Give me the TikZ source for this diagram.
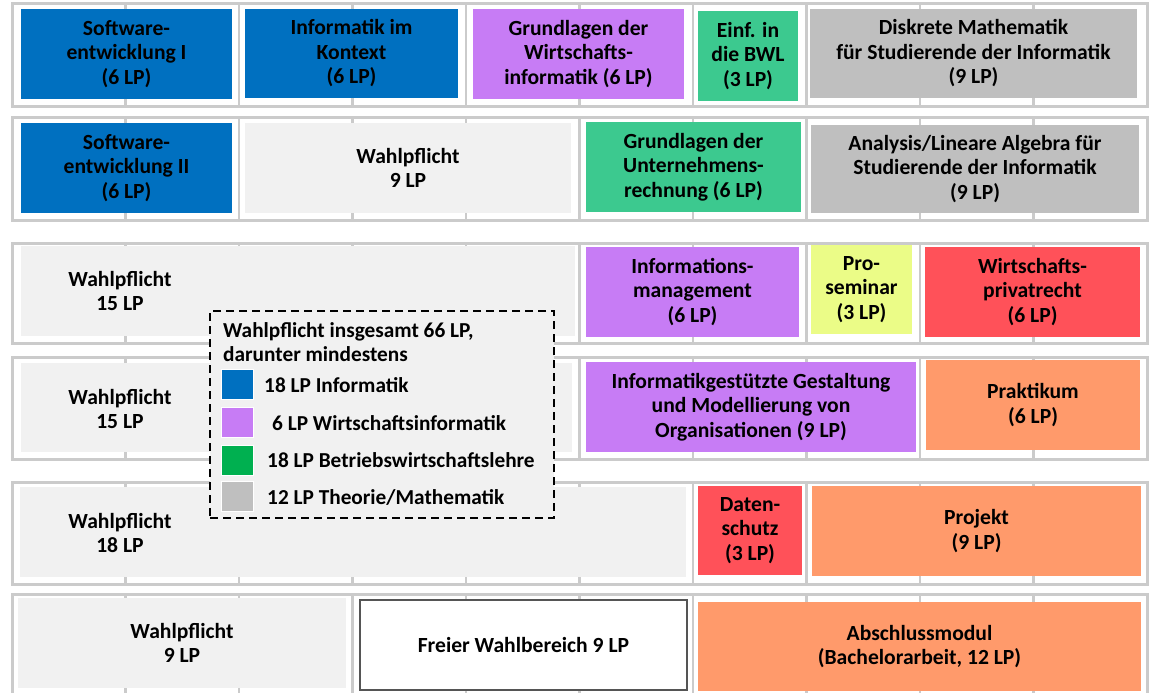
\documentclass[tikz,border=0pt]{standalone}
\usepackage{fontspec}
\setmainfont{Carlito}
\definecolor{cblue}{HTML}{0070C0}
\definecolor{cpurple}{HTML}{C77CF5}
\definecolor{cgreen}{HTML}{3CC98F}
\definecolor{cgray}{HTML}{BFBFBF}
\definecolor{clight}{HTML}{F1F1F1}
\definecolor{cyellow}{HTML}{EBFC87}
\definecolor{cred}{HTML}{FF5159}
\definecolor{corange}{HTML}{FF9A6B}
\definecolor{cgrid}{HTML}{CBCBCB}
\definecolor{clgreen}{HTML}{00B050}
\definecolor{cdark}{HTML}{555555}
\newcommand{\Mod}[7]{%
  \pgfmathsetmacro\Mcx{(#2+#4)/2}\pgfmathsetmacro\Mcy{(#3+#5)/2}%
  \pgfmathsetmacro\Mw{#4-#2}\pgfmathsetmacro\Mh{#5-#3}%
  \node[modbox,#6,minimum width=\Mw pt,minimum height=\Mh pt] (#1) at (\Mcx,\Mcy) {#7};}
\newcommand{\Row}[2]{%
  \draw[rowframe] (12,#1) rectangle (1147,#2);
  \foreach \i in {1,...,9}{\draw[gridline] ({12+113.5*\i},#1) -- ({12+113.5*\i},#2);}}
\tikzset{
  modbox/.style={inner sep=0pt,align=center,draw=none,
    font=\fontsize{21.6}{24.5}\selectfont\bfseries},
  txt/.style={inner sep=0pt,align=center,font=\fontsize{21.6}{24.5}\selectfont\bfseries},
  ltxt/.style={inner sep=0pt,anchor=base west,font=\fontsize{21.3}{24.5}\selectfont\bfseries},
  rowframe/.style={draw=cgrid,line width=3pt},
  gridline/.style={draw=cgrid,line width=2.5pt},
  legsq/.style={inner sep=0pt,minimum width=32pt,minimum height=30pt,draw=white,line width=0.6pt},
}
\begin{document}
\begin{tikzpicture}[x=1pt,y=-1pt]
\useasboundingbox (0,0) rectangle (1149,693);
\clip (0,0) rectangle (1149,693);
\fill[white] (0,0) rectangle (1149,693);
% semester rows with grid
\Row{3.5}{106}
\Row{117}{220}
\Row{243}{343}
\Row{357}{459}
\Row{482}{584}
\Row{594}{697}
% row 1
\Mod{se1}{21}{9}{232}{99}{fill=cblue}{Software-\\entwicklung I\\(6 LP)}
\Mod{iik}{245}{9}{458}{98}{fill=cblue}{Informatik im\\Kontext\\(6 LP)}
\Mod{gdw}{473}{9}{684}{99}{fill=cpurple}{Grundlagen der\\Wirtschafts-\\informatik (6 LP)}
\Mod{bwl}{698}{11}{798}{101}{fill=cgreen}{Einf. in\\die BWL\\(3 LP)}
\Mod{dm}{810}{9}{1137}{98}{fill=cgray}{Diskrete Mathematik\\für Studierende der Informatik\\(9 LP)}
% row 2
\Mod{se2}{21}{123}{232}{213}{fill=cblue}{Software-\\entwicklung II\\(6 LP)}
\Mod{wpa}{245}{123}{571}{213}{fill=clight}{Wahlpflicht\\9 LP}
\Mod{gdu}{586}{122}{801}{212}{fill=cgreen}{Grundlagen der\\Unternehmens-\\rechnung (6 LP)}
\Mod{ana}{811}{125}{1139}{213}{fill=cgray}{Analysis/Lineare Algebra für\\Studierende der Informatik\\(9 LP)}
% row 3
\Mod{wpb}{21}{246}{575}{336}{fill=clight}{}
\node[txt] (wpbl) at (120,291) {Wahlpflicht\\15 LP};
\Mod{im}{586}{247}{799}{337}{fill=cpurple}{Informations-\\management\\(6 LP)}
\Mod{ps}{811}{245}{912}{334}{fill=cyellow}{Pro-\\seminar\\(3 LP)}
\Mod{wpr}{925}{247}{1140}{337}{fill=cred}{Wirtschafts-\\privatrecht\\(6 LP)}
% row 4
\Mod{wpc}{21}{363}{572}{452}{fill=clight}{}
\node[txt] (wpcl) at (120,409) {Wahlpflicht\\15 LP};
\Mod{igm}{586}{362}{916}{452}{fill=cpurple}{Informatikgestützte Gestaltung\\und Modellierung von\\Organisationen (9 LP)}
\Mod{pr}{926}{360}{1140}{450}{fill=corange}{Praktikum\\(6 LP)}
% row 5
\Mod{wpd}{20}{487}{686}{577}{fill=clight}{}
\node[txt] (wpdl) at (120,533) {Wahlpflicht\\18 LP};
\Mod{ds}{698}{486}{802}{575}{fill=cred}{Daten-\\schutz\\(3 LP)}
\Mod{pj}{812}{486}{1141}{576}{fill=corange}{Projekt\\(9 LP)}
% row 6
\Mod{wpe}{18}{598}{346}{688}{fill=clight}{Wahlpflicht\\9 LP}
\Mod{fw}{360}{600}{687}{690}{fill=white,draw=cdark,line width=1.2pt}{Freier Wahlbereich 9 LP}
\Mod{am}{698}{602}{1141}{691}{fill=corange}{Abschlussmodul\\(Bachelorarbeit, 12 LP)}
% legend
\node[draw=black,fill=clight,line width=2.5pt,dash pattern=on 8pt off 5pt,
      minimum width=344pt,minimum height=207pt,inner sep=0pt] (legend) at (382,414.5) {};
\node[ltxt] (lt1) at (223,337) {Wahlpflicht insgesamt 66 LP,};
\node[ltxt] (lt2) at (223,361) {darunter mindestens};
\node[legsq,fill=cblue] (sq1) at (237.5,384.5) {};
\node[legsq,fill=cpurple] (sq2) at (237.5,422) {};
\node[legsq,fill=clgreen] (sq3) at (237.5,460) {};
\node[legsq,fill=cgray] (sq4) at (237.5,496.5) {};
\node[ltxt] (l1) at (264,392.5) {18 LP Informatik};
\node[ltxt] (l2) at (272,430) {6 LP Wirtschaftsinformatik};
\node[ltxt] (l3) at (267,467.5) {18 LP Betriebswirtschaftslehre};
\node[ltxt] (l4) at (267,504.5) {12 LP Theorie/Mathematik};
\end{tikzpicture}
\end{document}
